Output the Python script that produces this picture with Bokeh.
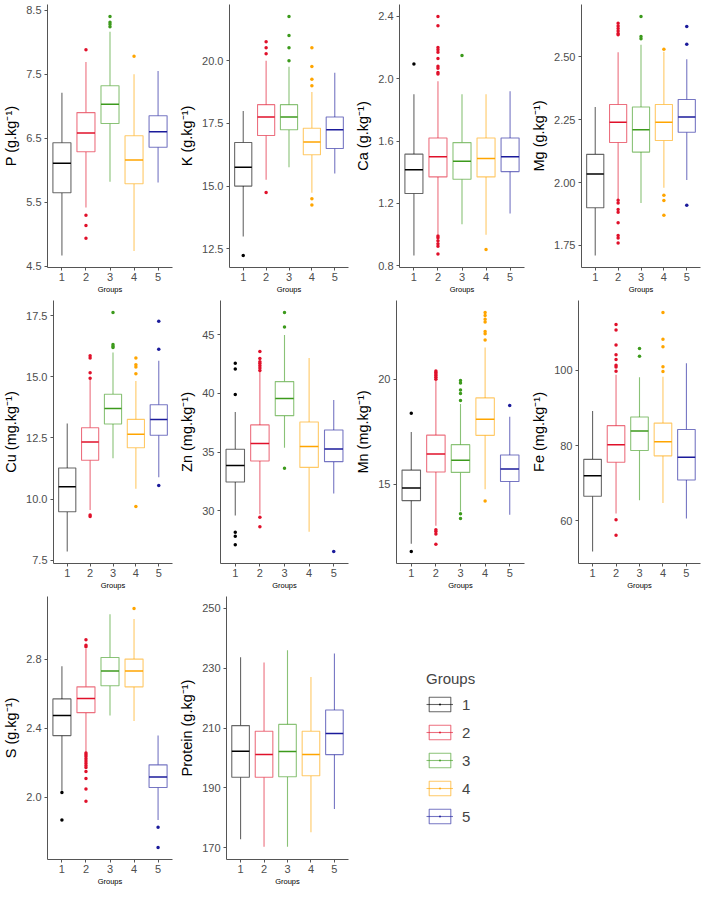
from bokeh.plotting import figure
from bokeh.layouts import column, row
from bokeh.models import ColumnDataSource, FixedTicker, Range1d, Legend, LegendItem
from bokeh.transform import dodge
from bokeh.embed import file_html
from bokeh.resources import INLINE

groups = [1, 2, 3, 4, 5]
group_labels = ["1", "2", "3", "4", "5"]
colors = ["#000000", "#E0102A", "#3C9A1C", "#FFA500", "#1B1B9B"]

# ---- P ----
P_lower = [4.67, 5.42, 5.82, 4.74, 5.81]
P_q1 = [5.65, 6.29, 6.73, 5.79, 6.36]
P_median = [6.11, 6.58, 7.03, 6.16, 6.60]
P_q3 = [6.43, 6.90, 7.32, 6.54, 6.85]
P_upper = [7.21, 7.69, 8.16, 7.50, 7.55]
P_outliers = [[], [7.88, 5.30, 5.14, 4.94], [8.40, 8.31, 8.28, 8.24], [7.78], []]
P_ticks = [4.5, 5.5, 6.5, 7.5, 8.5]
P_tick_labels = ["4.5", "5.5", "6.5", "7.5", "8.5"]

# ---- K ----
K_lower = [12.99, 15.25, 15.75, 14.74, 15.50]
K_q1 = [15.0, 17.02, 17.25, 16.25, 16.50]
K_median = [15.75, 17.76, 17.76, 16.76, 17.25]
K_q3 = [16.74, 18.25, 18.25, 17.31, 17.76]
K_upper = [18.0, 20.0, 19.76, 18.76, 19.52]
K_outliers = [[12.23], [20.76, 20.52, 20.28, 14.75], [21.77, 21.01, 20.52, 20.0],
              [20.52, 19.77, 19.26, 19.01, 14.50, 14.25], []]
K_ticks = [12.5, 15.0, 17.5, 20.0]
K_tick_labels = ["12.5", "15.0", "17.5", "20.0"]

# ---- Ca ----
Ca_lower = [0.865, 1.00, 1.066, 0.998, 1.135]
Ca_q1 = [1.263, 1.37, 1.355, 1.37, 1.404]
Ca_median = [1.416, 1.50, 1.47, 1.488, 1.50]
Ca_q3 = [1.516, 1.62, 1.59, 1.62, 1.62]
Ca_upper = [1.90, 1.984, 1.90, 1.90, 1.92]
Ca_outliers = [[2.094],
               [2.40, 2.34, 2.20, 2.186, 2.17, 2.13, 2.08, 2.067, 2.04, 2.03,
                0.99, 0.98, 0.96, 0.94, 0.925, 0.875],
               [2.15], [0.904], []]
Ca_ticks = [0.8, 1.2, 1.6, 2.0, 2.4]
Ca_tick_labels = ["0.8", "1.2", "1.6", "2.0", "2.4"]

# ---- Mg ----
Mg_lower = [1.71, 1.934, 1.919, 1.979, 2.01]
Mg_q1 = [1.90, 2.159, 2.121, 2.167, 2.20]
Mg_median = [2.034, 2.24, 2.21, 2.24, 2.26]
Mg_q3 = [2.112, 2.31, 2.30, 2.31, 2.33]
Mg_upper = [2.30, 2.518, 2.548, 2.52, 2.49]
Mg_outliers = [[],
               [2.633, 2.622, 2.612, 2.602, 2.592, 2.587, 1.93, 1.919, 1.893, 1.882,
                1.84, 1.79, 1.78, 1.76],
               [2.66, 2.58, 2.571], [2.53, 1.95, 1.929, 1.87], [2.62, 2.55, 1.91]]
Mg_ticks = [1.75, 2.00, 2.25, 2.50]
Mg_tick_labels = ["1.75", "2.00", "2.25", "2.50"]

# ---- Cu ----
Cu_lower = [7.85, 9.55, 11.67, 10.42, 10.89]
Cu_q1 = [9.48, 11.59, 13.07, 12.10, 12.61]
Cu_median = [10.50, 12.34, 13.71, 12.65, 13.26]
Cu_q3 = [11.27, 12.92, 14.29, 13.26, 13.86]
Cu_upper = [13.09, 14.90, 16.0, 14.83, 15.66]
Cu_outliers = [[], [15.87, 15.78, 15.17, 14.95, 9.35, 9.29], [17.64, 16.33, 16.26, 16.2],
               [15.77, 15.5, 15.41, 15.13, 9.69], [17.28, 16.13, 10.55]]
Cu_ticks = [7.5, 10.0, 12.5, 15.0, 17.5]
Cu_tick_labels = ["7.5", "10.0", "12.5", "15.0", "17.5"]

# ---- Zn ----
Zn_lower = [29.6, 29.69, 35.37, 28.2, 31.47]
Zn_q1 = [32.44, 34.23, 38.10, 33.69, 34.18]
Zn_median = [33.85, 35.72, 39.56, 35.48, 35.26]
Zn_q3 = [35.23, 37.31, 41.0, 37.56, 36.88]
Zn_upper = [38.40, 41.86, 44.97, 43.02, 39.43]
Zn_outliers = [[42.56, 42.08, 39.91, 28.17, 27.82, 27.09],
               [43.56, 42.97, 42.70, 42.54, 42.35, 42.16, 41.94, 29.44, 28.63],
               [46.89, 45.65, 33.61], [], [26.52]]
Zn_ticks = [30, 35, 40, 45]
Zn_tick_labels = ["30", "35", "40", "45"]

# ---- Mn ----
Mn_lower = [12.18, 13.04, 13.72, 14.77, 13.56]
Mn_q1 = [14.23, 15.59, 15.57, 17.33, 15.14]
Mn_median = [14.83, 16.45, 16.15, 18.10, 15.73]
Mn_q3 = [15.68, 17.34, 16.89, 19.11, 16.40]
Mn_upper = [17.49, 19.91, 18.82, 21.51, 18.22]
Mn_outliers = [[18.38, 11.81],
               [20.39, 20.32, 20.24, 20.17, 20.09, 20.0, 12.85, 12.76, 12.64, 12.16],
               [19.94, 19.82, 19.49, 19.32, 18.99, 13.61, 13.38],
               [23.17, 23.02, 22.85, 22.72, 22.27, 22.16, 21.86, 14.21],
               [18.75]]
Mn_ticks = [15, 20]
Mn_tick_labels = ["15", "20"]

# ---- Fe ----
Fe_lower = [51.82, 61.96, 65.43, 64.75, 60.61]
Fe_q1 = [66.53, 75.57, 78.70, 77.26, 70.84]
Fe_median = [71.94, 80.22, 83.85, 80.98, 76.92]
Fe_q3 = [76.33, 85.29, 87.6, 85.97, 84.28]
Fe_upper = [89.18, 98.8, 98.14, 98.31, 101.86]
Fe_outliers = [[],
               [112.17, 110.74, 106.76, 104.14, 102.87, 101.35, 100.85, 99.75, 60.27, 56.13],
               [105.83, 103.72],
               [115.38, 108.28, 106.26, 100.93, 99.66],
               []]
Fe_ticks = [60, 80, 100]
Fe_tick_labels = ["60", "80", "100"]

# ---- S ----
S_lower = [2.037, 2.262, 2.475, 2.443, 1.868]
S_q1 = [2.358, 2.491, 2.647, 2.641, 2.057]
S_median = [2.475, 2.573, 2.733, 2.733, 2.118]
S_q3 = [2.571, 2.641, 2.811, 2.802, 2.188]
S_upper = [2.761, 2.861, 3.062, 3.035, 2.358]
S_outliers = [[2.027, 1.868],
              [2.915, 2.883, 2.874, 2.257, 2.247, 2.236, 2.223, 2.21, 2.197, 2.185,
               2.173, 2.149, 2.109, 2.048, 1.977],
              [], [3.096], [1.826, 1.708]]
S_ticks = [2.0, 2.4, 2.8]
S_tick_labels = ["2.0", "2.4", "2.8"]

# ---- Protein ----
Protein_lower = [172.8, 170.3, 170.3, 175.1, 182.9]
Protein_q1 = [193.5, 193.5, 193.7, 194.0, 201.1]
Protein_median = [202.2, 201.1, 202.1, 201.1, 208.2]
Protein_q3 = [210.8, 208.9, 211.2, 208.9, 216.0]
Protein_upper = [233.7, 231.9, 236.0, 227.1, 234.9]
Protein_outliers = [[], [], [], [], []]
Protein_ticks = [170, 190, 210, 230, 250]
Protein_tick_labels = ["170", "190", "210", "230", "250"]
Protein_limits = (170, 250)

FONT = "Liberation Sans"
AX = "#555555"
W, H = 176, 296
NAN = float("nan")


def make_panel(ylabel, lower, q1, med, q3, upper, outliers, ticks, tick_labels, limits=None):
    src = ColumnDataSource(dict(x=groups, lower=lower, q1=q1, med=med, q3=q3,
                                upper=upper, color=colors))
    ox, oy, oc = [], [], []
    for g, vals, c in zip(groups, outliers, colors):
        for v in vals:
            ox.append(g)
            oy.append(v)
            oc.append(c)
    allv = list(lower) + list(upper) + oy
    lo, hi = limits if limits else (min(allv), max(allv))
    pad = 0.05 * (hi - lo)
    p = figure(width=W, height=H, x_range=Range1d(0.4, 5.6),
               y_range=Range1d(lo - pad, hi + pad),
               output_backend="svg", toolbar_location=None,
               min_border_left=2, min_border_right=4, min_border_top=4,
               min_border_bottom=2)
    p.segment(x0="x", y0="q3", x1="x", y1="upper", source=src,
              line_color="color", line_alpha=0.6, line_width=1.1)
    p.segment(x0="x", y0="q1", x1="x", y1="lower", source=src,
              line_color="color", line_alpha=0.6, line_width=1.1)
    p.vbar(x="x", width=0.75, bottom="q1", top="q3", source=src,
           fill_color="white", line_color="color", line_alpha=0.6, line_width=1.1)
    p.segment(x0=dodge("x", -0.375), y0="med", x1=dodge("x", 0.375), y1="med",
              source=src, line_color="color", line_width=1.5)
    if ox:
        p.scatter(x=ox, y=oy, color=oc, size=3.5, line_width=0)
    p.xgrid.visible = False
    p.ygrid.visible = False
    p.outline_line_color = None
    p.background_fill_color = "white"
    p.xaxis.ticker = FixedTicker(ticks=groups)
    p.xaxis.major_label_overrides = {g: l for g, l in zip(groups, group_labels)}
    p.yaxis.ticker = FixedTicker(ticks=ticks)
    p.yaxis.major_label_overrides = {t: l for t, l in zip(ticks, tick_labels)}
    for ax in p.axis:
        ax.axis_line_color = AX
        ax.axis_line_width = 1
        ax.major_tick_line_color = AX
        ax.minor_tick_line_color = None
        ax.major_tick_out = 3
        ax.major_tick_in = 0
        ax.major_label_text_font = FONT
        ax.major_label_text_font_size = "11px"
        ax.major_label_text_color = "#4D4D4D"
        ax.axis_label_text_font = FONT
        ax.axis_label_text_font_style = "normal"
        ax.axis_label_text_color = "#000000"
    p.yaxis.axis_label = ylabel
    p.yaxis.axis_label_text_font_size = "14.5px"
    p.yaxis.axis_label_standoff = 4
    p.yaxis.major_label_standoff = 3
    p.xaxis.axis_label = "Groups"
    p.xaxis.axis_label_text_font_size = "7.5px"
    p.xaxis.axis_label_standoff = 1
    p.xaxis.major_label_standoff = 2
    return p


sup = "\u207b\u00b9"
pP = make_panel("P (g.kg" + sup + ")", P_lower, P_q1, P_median, P_q3, P_upper, P_outliers, P_ticks, P_tick_labels)
pK = make_panel("K (g.kg" + sup + ")", K_lower, K_q1, K_median, K_q3, K_upper, K_outliers, K_ticks, K_tick_labels)
pCa = make_panel("Ca (g.kg" + sup + ")", Ca_lower, Ca_q1, Ca_median, Ca_q3, Ca_upper, Ca_outliers, Ca_ticks, Ca_tick_labels)
pMg = make_panel("Mg (g.kg" + sup + ")", Mg_lower, Mg_q1, Mg_median, Mg_q3, Mg_upper, Mg_outliers, Mg_ticks, Mg_tick_labels)
pCu = make_panel("Cu (mg.kg" + sup + ")", Cu_lower, Cu_q1, Cu_median, Cu_q3, Cu_upper, Cu_outliers, Cu_ticks, Cu_tick_labels)
pZn = make_panel("Zn (mg.kg" + sup + ")", Zn_lower, Zn_q1, Zn_median, Zn_q3, Zn_upper, Zn_outliers, Zn_ticks, Zn_tick_labels)
pMn = make_panel("Mn (mg.kg" + sup + ")", Mn_lower, Mn_q1, Mn_median, Mn_q3, Mn_upper, Mn_outliers, Mn_ticks, Mn_tick_labels)
pFe = make_panel("Fe (mg.kg" + sup + ")", Fe_lower, Fe_q1, Fe_median, Fe_q3, Fe_upper, Fe_outliers, Fe_ticks, Fe_tick_labels)
pS = make_panel("S (g.kg" + sup + ")", S_lower, S_q1, S_median, S_q3, S_upper, S_outliers, S_ticks, S_tick_labels)
pPr = make_panel("Protein (g.kg" + sup + ")", Protein_lower, Protein_q1, Protein_median, Protein_q3,
                 Protein_upper, Protein_outliers, Protein_ticks, Protein_tick_labels, limits=Protein_limits)

# ---- legend panel ----
lf = figure(width=2 * W, height=H, x_range=Range1d(0, 1), y_range=Range1d(0, 1),
            output_backend="svg", toolbar_location=None, min_border=0)
lf.axis.visible = False
lf.xgrid.visible = False
lf.ygrid.visible = False
lf.outline_line_color = None
items = []
for lab, c in zip(group_labels, colors):
    r1 = lf.quad(left=[NAN], right=[NAN], top=[NAN], bottom=[NAN], fill_color="white",
                 line_color=c, line_alpha=0.6, line_width=1.1)
    r2 = lf.line(x=[NAN], y=[NAN], line_color=c, line_alpha=0.6, line_width=1.1)
    r3 = lf.scatter(x=[NAN], y=[NAN], marker="dot", size=6, color=c)
    items.append(LegendItem(label=lab, renderers=[r1, r2, r3]))
legend = Legend(items=items, title="Groups", location=(74, 34),
                glyph_width=27, glyph_height=18, label_height=18, spacing=10,
                label_standoff=9, padding=0, margin=0,
                title_standoff=8,
                label_text_font=FONT, label_text_font_size="15px",
                title_text_font=FONT, title_text_font_size="15px",
                title_text_font_style="normal",
                border_line_alpha=0, background_fill_alpha=0)
lf.add_layout(legend)

layout = column(row(pP, pK, pCa, pMg), row(pCu, pZn, pMn, pFe), row(pS, pPr, lf))

open("out.html", "w").write(file_html(layout, INLINE))
